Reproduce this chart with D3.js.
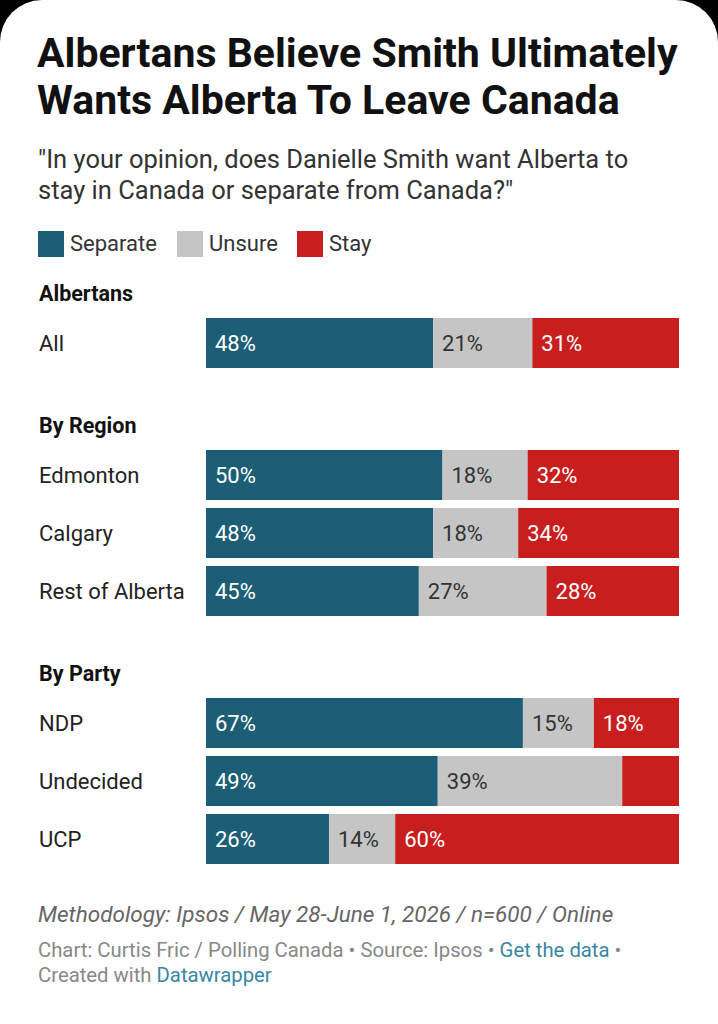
<!DOCTYPE html>
<html>
<head>
<meta charset="utf-8">
<script src="https://cdn.jsdelivr.net/npm/d3@7"></script>
<style>
  html, body { margin: 0; padding: 0; background: #000; }
  * { font-family: "Roboto", "Helvetica", "Arial", sans-serif; }
</style>
</head>
<body>
<div class="container"></div>
<script>
const width = 718;
const height = 1024;

// data
const series = ["Separate", "Unsure", "Stay"];
const groups = ["Albertans", "By Region", "By Party"];
const rowLabels = ["All", "Edmonton", "Calgary", "Rest of Alberta", "NDP", "Undecided", "UCP"];
const rowGroups = ["Albertans", "By Region", "By Region", "By Region", "By Party", "By Party", "By Party"];
const separateValues = [48, 50, 48, 45, 67, 49, 26];
const unsureValues = [21, 18, 18, 27, 15, 39, 14];
const stayValues = [31, 32, 34, 28, 18, 12, 60];

const colors = ["#1b5e76", "#c5c5c5", "#c81e1e"];
const labelColors = ["#ffffff", "#333333", "#ffffff"];

const svg = d3.select(".container")
  .append("svg")
  .attr("xmlns", "http://www.w3.org/2000/svg")
  .attr("width", width)
  .attr("height", height)
  .attr("viewBox", `0 0 ${width} ${height}`)
  .style("display", "block");

// background card with rounded top corners
svg.append("rect")
  .attr("x", 0).attr("y", 0)
  .attr("width", width).attr("height", height)
  .attr("fill", "#000");
svg.append("rect")
  .attr("x", 0).attr("y", 0)
  .attr("width", width).attr("height", height + 60)
  .attr("rx", 42).attr("ry", 42)
  .attr("fill", "#fff");

// title
const title = svg.append("text")
  .attr("fill", "#111")
  .style("font-size", "41px")
  .style("font-weight", "bold");
title.append("tspan").attr("x", 37).attr("y", 67).text("Albertans Believe Smith Ultimately");
title.append("tspan").attr("x", 37).attr("y", 114).text("Wants Alberta To Leave Canada");

// subtitle
const sub = svg.append("text")
  .attr("fill", "#333")
  .style("font-size", "25.5px");
sub.append("tspan").attr("x", 38).attr("y", 168)
  .text("\"In your opinion, does Danielle Smith want Alberta to");
sub.append("tspan").attr("x", 38).attr("y", 199)
  .text("stay in Canada or separate from Canada?\"");

// legend
const legendX = [38, 177, 297];
const legend = svg.append("g");
series.forEach((s, i) => {
  legend.append("rect")
    .attr("x", legendX[i]).attr("y", 231)
    .attr("width", 26).attr("height", 26)
    .attr("fill", colors[i]);
  legend.append("text")
    .attr("x", legendX[i] + 32).attr("y", 251)
    .attr("fill", "#333")
    .style("font-size", "22px")
    .text(s);
});

// scales
const x = d3.scaleLinear().domain([0, 100]).range([206, 679]);
const groupTop = { "Albertans": 318, "By Region": 450, "By Party": 698 };
const rowStep = 58;
const barHeight = 50;

const rows = rowLabels.map((label, i) => ({
  label,
  group: rowGroups[i],
  values: [separateValues[i], unsureValues[i], stayValues[i]]
}));

const yScales = {};
groups.forEach(g => {
  const names = rows.filter(r => r.group === g).map(r => r.label);
  yScales[g] = d3.scaleBand()
    .domain(names)
    .range([groupTop[g], groupTop[g] + names.length * rowStep - (rowStep - barHeight)])
    .paddingInner(names.length > 1 ? (rowStep - barHeight) / rowStep : 0)
    .paddingOuter(0);
});

// group headings
const chart = svg.append("g");
groups.forEach(g => {
  chart.append("text")
    .attr("x", 39)
    .attr("y", groupTop[g] - 17)
    .attr("fill", "#111")
    .style("font-size", "21.5px")
    .style("font-weight", "bold")
    .text(g);
});

// rows
rows.forEach(r => {
  const y = yScales[r.group];
  const top = y(r.label);
  const bh = y.bandwidth();
  const row = chart.append("g");

  row.append("text")
    .attr("x", 39)
    .attr("y", top + bh / 2 + 8)
    .attr("fill", "#222")
    .style("font-size", "22px")
    .text(r.label);

  let acc = 0;
  r.values.forEach((v, i) => {
    const x0 = x(acc);
    const x1 = x(acc + v);
    row.append("rect")
      .attr("x", x0).attr("y", top)
      .attr("width", x1 - x0).attr("height", bh)
      .attr("fill", colors[i]);
    if (x1 - x0 > 60) {
      row.append("text")
        .attr("x", x0 + 9)
        .attr("y", top + bh / 2 + 8)
        .attr("fill", labelColors[i])
        .style("font-size", "22px")
        .text(`${v}%`);
    }
    acc += v;
  });
});

// footer
svg.append("text")
  .attr("x", 38).attr("y", 922)
  .attr("fill", "#666")
  .style("font-size", "22.5px")
  .style("font-style", "italic")
  .text("Methodology: Ipsos / May 28-June 1, 2026 / n=600 / Online");

const note1 = svg.append("text")
  .attr("x", 38).attr("y", 957)
  .attr("fill", "#888")
  .style("font-size", "20.3px");
note1.append("tspan").text("Chart: Curtis Fric / Polling Canada \u2022 Source: Ipsos \u2022 ");
note1.append("tspan").attr("fill", "#3a86a6").text("Get the data");
note1.append("tspan").text(" \u2022");

const note2 = svg.append("text")
  .attr("x", 38).attr("y", 982)
  .attr("fill", "#888")
  .style("font-size", "20.3px");
note2.append("tspan").text("Created with ");
note2.append("tspan").attr("fill", "#3a86a6").text("Datawrapper");
</script>
</body>
</html>
